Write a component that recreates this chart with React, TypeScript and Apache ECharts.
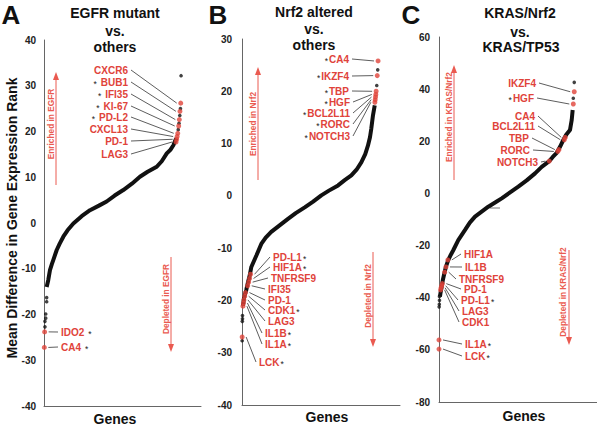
import React, { useEffect, useRef } from 'react';
import * as echarts from 'echarts';

const FONT = 'Liberation Sans, Arial, Helvetica, sans-serif';
const RED = '#e0433a';
const ARROW_RED = '#ea5a50';
const INK = '#111111';

// ---------- Panel A: EGFR mutant vs. others ----------
const egfrTitle = ['EGFR mutant', 'vs.', 'others'];
const egfrAxis = { min: -40, max: 40, interval: 10 };
const egfrCurve = [[1.7, -14.0], [2.7, -12.5], [3.8, -10.3], [5.0, -9.0], [5.9, -8.1], [8.1, -5.9], [10.0, -4.5], [12.3, -3.0], [15.0, -1.6], [18.7, -0.1], [24.0, 1.5], [29.3, 2.8], [35.0, 3.8], [39.9, 4.7], [45.0, 6.0], [50.5, 7.2], [56.0, 8.6], [61.1, 10.1], [66.0, 11.2], [71.8, 12.3], [75.0, 13.5], [78.2, 15.2], [80.5, 16.0], [82.4, 17.0], [84.2, 18.5]];
const egfrBlack = [[1.7, -16.3], [1.7, -17.2], [1.1, -19.9], [1.1, -20.8], [0.6, -21.5], [0.6, -22.7], [85.5, 20.4], [86.0, 21.8], [86.5, 23.5], [86.9, 25.0], [87.3, 32.2]];
const egfrRedGenes = ['CXCR6', 'BUB1', 'IFI35', 'KI-67', 'PD-L2', 'CXCL13', 'PD-1', 'LAG3', 'IDO2', 'CA4'];
const egfrRed = [[87.1, 26.2], [86.6, 24.4], [86.2, 22.6], [85.8, 21.2], [85.2, 19.6], [84.8, 18.9], [84.5, 18.3], [84.1, 17.7], [0.4, -23.8], [0.2, -27.2]];
const egfrStarred = ['BUB1', 'IFI35', 'KI-67', 'PD-L2', 'IDO2', 'CA4'];
const egfrArrows = ['Enriched in EGFR', 'Depleted in EGFR'];

// ---------- Panel B: Nrf2 altered vs. others ----------
const nrf2Title = ['Nrf2 altered', 'vs.', 'others'];
const nrf2Axis = { min: -40, max: 30, interval: 10 };
const nrf2Curve = [[0.6, -21.0], [1.3, -19.5], [2.7, -18.0], [3.8, -16.5], [4.9, -15.2], [5.9, -13.6], [7.5, -12.5], [9.1, -11.4], [12.2, -9.2], [15.0, -8.0], [18.5, -6.9], [24.0, -5.6], [29.1, -4.4], [34.0, -3.3], [39.7, -2.2], [45.0, -1.1], [50.2, 0.1], [55.0, 1.0], [60.8, 2.0], [65.0, 3.0], [69.2, 3.9], [72.5, 5.0], [75.5, 6.4], [78.0, 8.0], [79.7, 9.6], [81.0, 11.2], [81.8, 12.8], [82.9, 15.4], [84.0, 17.3]];
const nrf2Black = [[0.3, -22.9], [0.3, -23.5], [0.2, -24.0], [0.1, -27.7], [85.9, 24.1], [85.3, 21.1]];
const nrf2RedGenes = ['CA4', 'IKZF4', 'TBP', 'HGF', 'BCL2L11', 'RORC', 'NOTCH3', 'PD-L1', 'HIF1A', 'TNFRSF9', 'IFI35', 'PD-1', 'CDK1', 'LAG3', 'IL1B', 'IL1A', 'LCK'];
const nrf2Red = [[86.1, 25.8], [85.6, 23.0], [84.9, 20.0], [84.7, 19.4], [84.5, 18.9], [84.3, 18.4], [84.1, 17.9], [5.4, -15.0], [4.8, -15.8], [4.2, -16.5], [3.6, -17.2], [2.2, -18.5], [1.7, -19.2], [1.2, -19.9], [0.9, -20.5], [0.6, -21.1], [0.1, -27.0]];
const nrf2Starred = ['CA4', 'IKZF4', 'TBP', 'HGF', 'BCL2L11', 'RORC', 'NOTCH3', 'PD-L1', 'HIF1A', 'CDK1', 'IL1B', 'IL1A', 'LCK'];
const nrf2Arrows = ['Enriched in Nrf2', 'Depleted in Nrf2'];

// ---------- Panel C: KRAS/Nrf2 vs. KRAS/TP53 ----------
const krasTitle = ['KRAS/Nrf2', 'vs.', 'KRAS/TP53'];
const krasAxis = { min: -80, max: 60, interval: 20 };
const krasCurve = [[0.6, -39.6], [1.0, -38.0], [1.7, -35.8], [2.5, -33.0], [3.4, -30.6], [4.4, -28.1], [5.9, -25.5], [7.5, -23.5], [9.1, -21.7], [12.2, -17.9], [16.5, -14.0], [19.5, -11.2], [22.8, -8.9], [27.0, -7.0], [31.2, -5.1], [35.5, -3.5], [39.7, -1.9], [45.0, 0.4], [50.2, 2.6], [55.5, 5.0], [60.8, 7.7], [65.0, 10.2], [69.8, 12.4], [72.0, 14.0], [74.5, 15.6], [76.6, 17.9], [78.7, 20.5], [80.5, 22.5], [82.9, 24.3], [84.0, 28.2], [84.6, 32.0]];
const krasBlack = [[0.3, -39.5], [0.3, -41.0], [0.2, -42.5], [0.1, -43.5], [85.6, 42.6], [85.0, 36.5]];
const krasRedGenes = ['IKZF4', 'HGF', 'CA4', 'BCL2L11', 'TBP', 'RORC', 'NOTCH3', 'HIF1A', 'IL1B', 'TNFRSF9', 'PD-1', 'PD-L1', 'LAG3', 'CDK1', 'IL1A', 'LCK'];
const krasRed = [[85.6, 39.0], [85.0, 34.3], [79.9, 21.5], [79.3, 20.6], [75.9, 16.8], [75.2, 16.1], [69.8, 12.4], [5.6, -25.5], [4.4, -28.2], [3.6, -30.2], [2.1, -34.6], [1.7, -35.4], [1.3, -36.2], [1.0, -37.0], [0.0, -56.2], [0.0, -59.7]];
const krasStarred = ['HGF', 'PD-L1', 'IL1A', 'LCK'];
const krasArrows = ['Enriched in KRAS/Nrf2', 'Depleted in KRAS/Nrf2'];

const xLabel = 'Genes';
const yLabel = 'Mean Difference in Gene Expression Rank';

// ---------- layout (pixels) ----------
const gridsPx = [
  { left: 44, top: 40, width: 157, height: 366, labelMargin: 8 },
  { left: 242, top: 39, width: 158, height: 366, labelMargin: 10 },
  { left: 439, top: 37, width: 158, height: 365, labelMargin: 9 },
];
const starGap = [4, 1, 1];
const letterPos = [[11, 15], [218, 15], [411, 15]];
const titlePos = [
  [[115, 13], [115, 31], [115, 47]],
  [[314, 12], [314, 29], [314, 45]],
  [[520, 13], [520, 32], [521, 47]],
];
const genesPos = [[115, 419], [327, 417], [524, 416]];
const arrowPos = [
  [{ x: 56, top: 72, bottom: 185, up: true, tx: 51, ty: 124 }, { x: 171, top: 257, bottom: 352, up: false, tx: 166, ty: 299 }],
  [{ x: 258, top: 67, bottom: 180, up: true, tx: 253, ty: 124 }, { x: 373, top: 252, bottom: 347, up: false, tx: 368, ty: 296 }],
  [{ x: 454, top: 65, bottom: 180, up: true, tx: 449, ty: 117 }, { x: 569, top: 250, bottom: 345, up: false, tx: 563, ty: 292 }],
];
const labelPos: Record<string, [number, number, 'left' | 'right']>[] = [
  {
    CXCR6: [128, 70, 'right'], BUB1: [128, 82, 'right'], IFI35: [128, 94, 'right'], 'KI-67': [128, 106, 'right'],
    'PD-L2': [128, 117, 'right'], CXCL13: [128, 129, 'right'], 'PD-1': [128, 141, 'right'], LAG3: [128, 154, 'right'],
    IDO2: [61, 332, 'left'], CA4: [61, 347, 'left'],
  },
  {
    CA4: [349, 59, 'right'], IKZF4: [349, 76, 'right'], TBP: [349, 91, 'right'], HGF: [350, 102, 'right'],
    BCL2L11: [350, 113, 'right'], RORC: [350, 124, 'right'], NOTCH3: [350, 136, 'right'],
    'PD-L1': [273, 257, 'left'], HIF1A: [273, 267, 'left'], TNFRSF9: [271, 278, 'left'], IFI35: [268, 289, 'left'],
    'PD-1': [268, 300, 'left'], CDK1: [268, 310, 'left'], LAG3: [268, 321, 'left'], IL1B: [265, 333, 'left'],
    IL1A: [265, 344, 'left'], LCK: [259, 362, 'left'],
  },
  {
    IKZF4: [536, 83, 'right'], HGF: [534, 98, 'right'], CA4: [535, 116, 'right'], BCL2L11: [535, 126, 'right'],
    TBP: [529, 138, 'right'], RORC: [530, 150, 'right'], NOTCH3: [538, 162, 'right'],
    HIF1A: [464, 254, 'left'], IL1B: [465, 267, 'left'], TNFRSF9: [459, 279, 'left'], 'PD-1': [464, 289, 'left'],
    'PD-L1': [461, 300, 'left'], LAG3: [462, 311, 'left'], CDK1: [462, 322, 'left'], IL1A: [465, 344, 'left'],
    LCK: [465, 356, 'left'],
  },
];

const panels = [
  { letter: 'A', title: egfrTitle, axis: egfrAxis, curve: egfrCurve, black: egfrBlack, red: egfrRed, genes: egfrRedGenes, starred: egfrStarred, arrows: egfrArrows },
  { letter: 'B', title: nrf2Title, axis: nrf2Axis, curve: nrf2Curve, black: nrf2Black, red: nrf2Red, genes: nrf2RedGenes, starred: nrf2Starred, arrows: nrf2Arrows },
  { letter: 'C', title: krasTitle, axis: krasAxis, curve: krasCurve, black: krasBlack, red: krasRed, genes: krasRedGenes, starred: krasStarred, arrows: krasArrows },
];

function buildOption() {
  const grid = gridsPx.map((g) => ({ left: g.left, top: g.top, width: g.width, height: g.height, containLabel: false }));
  const xAxis = panels.map((_, i) => ({
    type: 'value', gridIndex: i, min: 0, max: 100,
    axisLine: { show: true, onZero: false, lineStyle: { color: '#666', width: 1 } },
    axisTick: { show: false }, axisLabel: { show: false }, splitLine: { show: false },
  }));
  const yAxis = panels.map((p, i) => ({
    type: 'value', gridIndex: i, min: p.axis.min, max: p.axis.max, interval: p.axis.interval,
    axisLine: { show: true, onZero: false, lineStyle: { color: '#666', width: 1 } },
    axisTick: { show: false }, splitLine: { show: false },
    axisLabel: { margin: gridsPx[i].labelMargin, color: '#222', fontSize: 10, fontWeight: 'bold', fontFamily: FONT },
  }));
  const series: any[] = [];
  panels.forEach((p, i) => {
    series.push({
      type: 'line', xAxisIndex: i, yAxisIndex: i, data: p.curve, symbol: 'none', clip: false,
      lineStyle: { color: INK, width: 4 }, z: 2, silent: true,
    });
    series.push({
      type: 'scatter', xAxisIndex: i, yAxisIndex: i, data: p.black, symbolSize: 3.6, clip: false,
      itemStyle: { color: INK }, z: 3, silent: true,
    });
    series.push({
      type: 'scatter', xAxisIndex: i, yAxisIndex: i, clip: false,
      data: p.red.map((v, k) => ({ name: p.genes[k], value: v })), symbolSize: 5,
      itemStyle: { color: RED }, z: 4, silent: true,
    });
  });
  return { animation: false, backgroundColor: '#fff', grid, xAxis, yAxis, series };
}

function buildGraphics(chart: any) {
  const els: any[] = [];
  const txt = (x: number, y: number, text: string, style: any, extra: any = {}) =>
    els.push({ type: 'text', x, y, silent: true, style: { text, fontFamily: FONT, align: 'center', verticalAlign: 'middle', ...style }, ...extra });
  const seg = (x1: number, y1: number, x2: number, y2: number, stroke: string, lineWidth: number) =>
    els.push({ type: 'line', silent: true, shape: { x1, y1, x2, y2 }, style: { stroke, lineWidth } });

  txt(12, 218, yLabel, { fontSize: 14, fontWeight: 'bold', fill: INK }, { rotation: Math.PI / 2 });

  panels.forEach((p, i) => {
    txt(letterPos[i][0], letterPos[i][1], p.letter, { fontSize: 26, fontWeight: 'bold', fill: INK });
    p.title.forEach((t, k) => txt(titlePos[i][k][0], titlePos[i][k][1], t, { fontSize: 14, fontWeight: 'bold', fill: INK }));
    txt(genesPos[i][0], genesPos[i][1], xLabel, { fontSize: 14, fontWeight: 'bold', fill: INK });

    arrowPos[i].forEach((a, k) => {
      if (a.up) {
        seg(a.x, a.top + 7, a.x, a.bottom, ARROW_RED, 1);
        els.push({ type: 'polygon', silent: true, shape: { points: [[a.x - 3, a.top + 8], [a.x + 3, a.top + 8], [a.x, a.top]] }, style: { fill: ARROW_RED } });
      } else {
        seg(a.x, a.top, a.x, a.bottom - 7, ARROW_RED, 1);
        els.push({ type: 'polygon', silent: true, shape: { points: [[a.x - 3, a.bottom - 8], [a.x + 3, a.bottom - 8], [a.x, a.bottom]] }, style: { fill: ARROW_RED } });
      }
      txt(a.tx, a.ty, p.arrows[k], { fontSize: 8.3, fontWeight: 'bold', fill: ARROW_RED }, { rotation: Math.PI / 2 });
    });

    p.genes.forEach((g, k) => {
      const pos = labelPos[i][g];
      if (!pos) return;
      const [lx, ly, align] = pos;
      const pt = chart.convertToPixel({ gridIndex: i }, p.red[k]);
      const star = p.starred.includes(g);
      let text = `{t|${g}}`;
      const gap = starGap[i];
      if (star) text = align === 'right' ? `{s|*}{t|${g}}` : `{t|${g}}{s|*}`;
      els.push({
        type: 'text', x: lx, y: ly, silent: true,
        style: {
          text, align, verticalAlign: 'middle', fontFamily: FONT,
          rich: {
            t: { fontSize: 10, fontWeight: 'bold', fill: RED, color: RED, fontFamily: FONT },
            s: {
              fontSize: 8.5, fill: '#222', color: '#222', fontFamily: FONT,
              padding: align === 'right' ? [3, gap, 0, 0] : [3, 0, 0, gap],
            },
          },
        },
      });
      if (align === 'right') seg(lx + 3, ly, pt[0] - 4, pt[1], '#333', 0.8);
      else seg(lx - 3, ly, pt[0] + 4, pt[1], '#333', 0.8);
    });
  });

  // stray leader-line remnant in panel C
  seg(490, 208, 500, 208, '#555', 0.8);
  return els;
}

export default function App() {
  const ref = useRef<HTMLDivElement>(null);
  useEffect(() => {
    if (!ref.current) return;
    const chart = echarts.init(ref.current, null, { renderer: 'svg' });
    chart.setOption(buildOption() as any);
    chart.setOption({ graphic: buildGraphics(chart) } as any);
    return () => chart.dispose();
  }, []);
  return <div ref={ref} style={{ position: 'fixed', left: 0, top: 0, width: 597, height: 426, background: '#fff' }} />;
}
